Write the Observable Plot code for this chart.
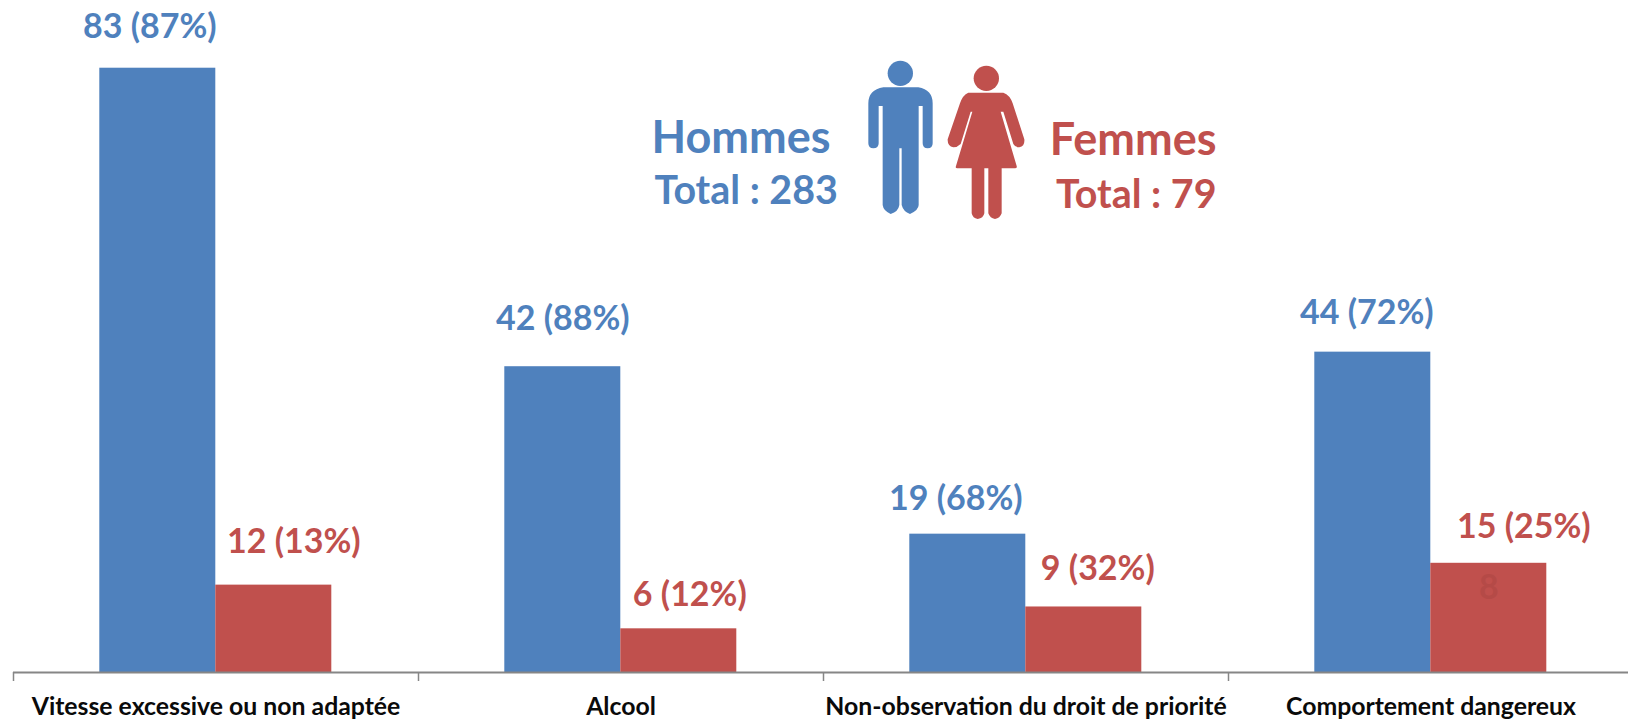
<!DOCTYPE html>
<html lang="fr">
<head>
<meta charset="utf-8">
<script src="https://cdn.jsdelivr.net/npm/d3@7"></script>
<script src="https://cdn.jsdelivr.net/npm/@observablehq/plot@0.6"></script>
<style>html,body{margin:0;padding:0;background:#fff}svg{display:block}</style>
</head>
<body>
<div id="chart"></div>
<script>
const categories = ["Vitesse excessive ou non adaptée", "Alcool", "Non-observation du droit de priorité", "Comportement dangereux"];
const series = ["Hommes", "Femmes"];
const hommes = [83, 42, 19, 44];
const femmes = [12, 6, 9, 15];
const hommesPct = [87, 88, 68, 72];
const femmesPct = [13, 12, 32, 25];
const totals = [283, 79];

const BLUE = "#4F81BD", RED = "#C0504D", FONT = "Lato, Carlito, sans-serif";

const rows = categories.flatMap((c, i) => [
  {c, s: series[0], v: hommes[i], label: `${hommes[i]} (${hommesPct[i]}%)`},
  {c, s: series[1], v: femmes[i], label: `${femmes[i]} (${femmesPct[i]}%)`}
]);
// label placement relative to the top of each bar
const nudgeX = [-8, 20, 0, 11, -12, 14, -6, 35];
const nudgeY = [-30, -32, -37, -23, -24, -27, -28, -25];

const labelMarks = rows.map((d, i) => Plot.text([d], {
  fx: "c", x: "s", y: "v", text: "label",
  fill: d.s === series[0] ? BLUE : RED,
  dx: nudgeX[i], dy: nudgeY[i], lineAnchor: "bottom",
  fontSize: 34, fontWeight: 700, fontFamily: FONT
}));

const note = (text, fill, fontSize, dx, dy, textAnchor) => Plot.text([text], {
  fx: () => categories[1], text: d => d, frameAnchor: "top-left",
  dx, dy, fill, fontSize, fontWeight: 700, fontFamily: FONT,
  textAnchor, lineAnchor: "bottom"
});

const svg = Plot.plot({
  width: 1628, height: 719,
  marginTop: 0, marginBottom: 47, marginLeft: 12.7, marginRight: -4.7,
  style: {background: "#fff", fontFamily: FONT, overflow: "hidden"},
  fx: {domain: categories, padding: 0, label: null, axis: null},
  x: {domain: series, paddingInner: 0, paddingOuter: 0.74, axis: null},
  y: {domain: [0, 92.3], axis: null},
  marks: [
    Plot.barY(rows, {fx: "c", x: "s", y: "v", fill: d => d.s === series[0] ? BLUE : RED}),
    Plot.ruleY([0], {stroke: "#868686", strokeWidth: 2}),
    Plot.axisFx({anchor: "bottom", tickSize: 9, text: null, label: null, dx: -202.5, stroke: "#868686", strokeWidth: 1.5}),
    Plot.axisFx({anchor: "bottom", tickSize: 0, tickPadding: 25, label: null, fontSize: 24.8, fontWeight: 700, fontFamily: FONT, fill: "#0a0a0a", lineWidth: 40}),
    ...labelMarks,
    Plot.text(["8"], {fx: () => categories[3], x: () => series[1], y: () => femmes[3], text: d => d, fill: "#B54A47", fontSize: 34, fontWeight: 700, fontFamily: FONT, dy: 36, lineAnchor: "bottom"}),
    note(series[0], BLUE, 45, 233, 152, "start"),
    note(`Total : ${totals[0]}`, BLUE, 39.4, 236, 203, "start"),
    note(series[1], RED, 45, 798, 154, "end"),
    note(`Total : ${totals[1]}`, RED, 39.4, 798, 207, "end")
  ]
});

// pictograms
const man = "M130,142H235Q278,150 278,190V310Q278,325 263,325Q248,325 248,310V198H236V495Q236,510 210,522Q190,515 185,495V325H178V495Q175,515 152,522Q130,512 128,495V198H116V310Q116,325 100,325Q85,325 85,310V190Q85,150 130,142Z";
const woman = "M385,158H490Q510,165 518,190L553,298Q555,318 538,322Q525,322 520,312L490,215H482L530,378Q532,385 525,385H485V520Q480,535 465,537Q450,535 445,520V385H433V520Q430,535 413,537Q398,535 395,520V385H352Q345,385 348,378L397,215H392L362,312Q352,322 340,322Q322,318 323,298L360,190Q368,165 385,158Z";
const icons = d3.select(svg).append("g").attr("transform", "translate(840,40) scale(0.33333)");
icons.append("path").attr("d", man).attr("fill", BLUE);
icons.append("circle").attr("cx", 181).attr("cy", 100).attr("r", 38).attr("fill", BLUE);
icons.append("path").attr("d", woman).attr("fill", RED);
icons.append("circle").attr("cx", 439).attr("cy", 115).attr("r", 38).attr("fill", RED);

document.getElementById("chart").append(svg);
</script>
</body>
</html>
